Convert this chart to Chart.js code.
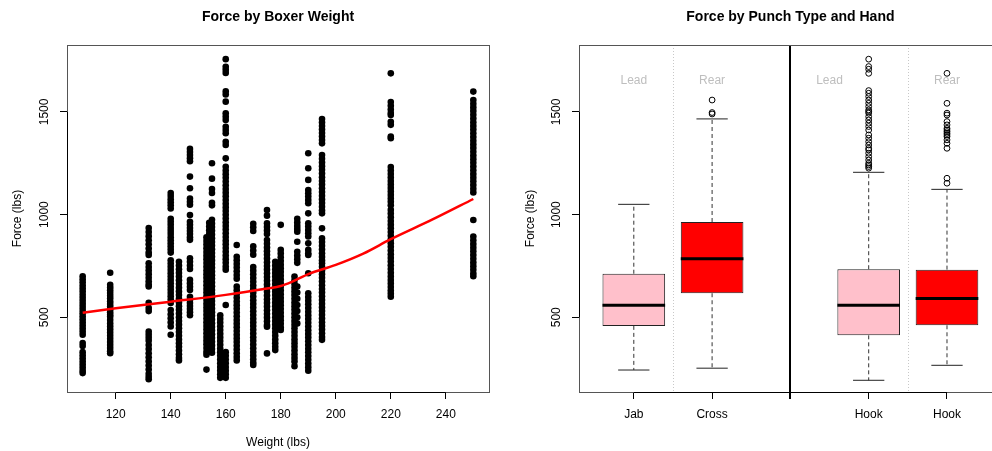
<!DOCTYPE html>
<html>
<head>
<meta charset="utf-8">
<title>Punch force</title>
<script src="https://cdn.jsdelivr.net/npm/chart.js@4.4.1/dist/chart.umd.min.js"></script>
<style>
  html, body { margin: 0; padding: 0; background: #fff; overflow: hidden; width: 992px; height: 451px; }
  #weightChart { position: absolute; left: 0; top: 0; }
  #punchChart { position: absolute; left: 496px; top: 0; }
</style>
</head>
<body>
<canvas id="weightChart" width="496" height="451"></canvas>
<canvas id="punchChart" width="520" height="451"></canvas>
<script>
// boxer weights (lbs) and the punch forces recorded at each weight
const weights = [108, 118, 132, 140, 143, 147, 153, 154, 155, 158, 160, 164, 170, 175, 178, 180, 185, 186, 190, 195, 220, 250];
const forces = [
  [700, 685, 670, 655, 640, 625, 610, 595, 580, 565, 550, 535, 520, 505, 490, 475, 460, 445, 430, 415, 375, 360, 330, 315, 300, 285, 270, 255, 240, 228],
  [717, 658, 645, 632, 618, 605, 592, 578, 565, 552, 538, 525, 512, 503, 487, 470, 455, 440, 425, 410, 395, 380, 365, 350, 335, 325],
  [935, 915, 895, 875, 855, 835, 815, 803, 763, 745, 728, 710, 692, 675, 660, 650, 570, 545, 530, 430, 415, 400, 385, 365, 345, 325, 305, 285, 265, 245, 225, 210, 198],
  [1105, 1090, 1075, 1060, 1045, 1030, 980, 965, 950, 935, 920, 905, 890, 875, 860, 845, 830, 815, 778, 762, 746, 730, 714, 698, 682, 666, 650, 634, 618, 602, 586, 570, 535, 515, 495, 475, 455, 415],
  [770, 752, 734, 716, 698, 680, 662, 644, 626, 608, 590, 572, 554, 536, 518, 500, 482, 464, 446, 428, 410, 392, 374, 356, 338, 320, 302, 290],
  [1320, 1305, 1290, 1275, 1260, 1185, 1128, 1078, 1062, 1048, 998, 965, 950, 935, 920, 905, 890, 877, 787, 770, 752, 735, 682, 665, 648, 633, 600, 585, 570, 555, 540, 525, 510],
  [890, 872, 854, 836, 818, 800, 782, 764, 746, 728, 710, 692, 674, 656, 638, 620, 602, 584, 566, 548, 530, 512, 494, 476, 458, 440, 422, 404, 386, 368, 350, 332, 318, 245],
  [960, 942, 924, 906, 888, 870, 852, 834, 816, 798, 780, 762, 744, 726, 708, 690, 672, 654, 636, 618, 600, 582, 564, 546, 528, 510, 492, 474, 456, 438, 420, 402, 384, 366, 348, 332],
  [1250, 1175, 1125, 1105, 1058, 1045, 975, 957, 939, 921, 903, 885, 867, 849, 831, 813, 795, 777, 759, 741, 723, 705, 687, 669, 651, 633, 615, 597, 579, 561, 543, 525, 507, 489, 471, 453, 435, 417, 399, 381, 363, 345, 327],
  [510, 492, 474, 456, 438, 420, 402, 384, 366, 348, 330, 312, 294, 276, 258, 240, 222, 205],
  [1757, 1720, 1705, 1690, 1600, 1585, 1550, 1493, 1477, 1461, 1428, 1412, 1396, 1355, 1339, 1274, 1233, 1215, 1197, 1179, 1161, 1143, 1125, 1107, 1089, 1071, 1053, 1035, 1017, 999, 981, 963, 945, 927, 909, 891, 873, 855, 837, 819, 801, 783, 765, 747, 732, 560, 330, 312, 294, 276, 258, 240, 222, 205],
  [852, 795, 778, 760, 742, 724, 706, 688, 649, 631, 613, 595, 577, 559, 541, 523, 505, 487, 469, 451, 433, 415, 397, 379, 361, 343, 325, 307, 290],
  [955, 938, 920, 845, 825, 805, 745, 727, 709, 691, 673, 655, 637, 619, 601, 583, 565, 547, 529, 511, 493, 475, 457, 439, 421, 403, 385, 367, 349, 331, 313, 295, 280, 268],
  [1022, 995, 958, 940, 922, 905, 876, 858, 840, 822, 804, 786, 768, 750, 732, 714, 696, 678, 660, 642, 624, 606, 588, 570, 552, 534, 516, 498, 480, 462, 454, 324],
  [770, 752, 734, 716, 698, 680, 662, 644, 626, 608, 590, 572, 554, 536, 518, 500, 482, 464, 446, 428, 410, 392, 374, 356, 340],
  [950, 828, 810, 792, 774, 756, 738, 720, 702, 684, 666, 648, 630, 612, 594, 576, 558, 540, 522, 504, 486, 468, 450, 438],
  [698, 680, 662, 644, 626, 608, 590, 572, 554, 536, 518, 500, 482, 464, 446, 428, 410, 392, 374, 356, 338, 320, 302, 284, 262],
  [980, 962, 945, 930, 917, 868, 819, 801, 783, 765, 650, 620, 590, 560, 530, 500, 470],
  [1299, 1226, 1169, 1120, 1104, 1088, 1071, 1055, 1006, 958, 942, 925, 909, 893, 860, 828, 812, 803, 714, 617, 599, 581, 563, 545, 527, 509, 491, 473, 455, 437, 419, 401, 383, 365, 347, 329, 311, 293, 275, 257, 240],
  [1465, 1448, 1431, 1414, 1397, 1380, 1363, 1347, 1290, 1272, 1254, 1236, 1218, 1200, 1182, 1164, 1146, 1128, 1110, 1092, 1074, 1056, 1038, 1020, 1006, 933, 884, 866, 848, 830, 812, 794, 776, 763, 746, 728, 710, 692, 674, 656, 638, 620, 602, 584, 566, 548, 530, 512, 494, 476, 458, 440, 422, 404, 390],
  [1688, 1548, 1530, 1512, 1495, 1485, 1452, 1437, 1380, 1372, 1232, 1215, 1198, 1181, 1164, 1147, 1130, 1113, 1096, 1079, 1062, 1045, 1023, 1005, 987, 969, 951, 933, 915, 897, 879, 861, 843, 825, 807, 789, 771, 753, 735, 717, 699, 681, 665, 647, 630, 615, 600],
  [1599, 1558, 1540, 1522, 1504, 1486, 1468, 1450, 1432, 1414, 1396, 1378, 1360, 1342, 1324, 1306, 1288, 1270, 1252, 1234, 1216, 1198, 1180, 1162, 1144, 1126, 1108, 974, 893, 875, 857, 839, 821, 803, 785, 767, 749, 731, 713, 700]
];

// smoothed trend of force against weight
const trendWeights = [108, 120, 140, 160, 175, 180, 184, 190, 200, 210, 220, 235, 250];
const trendForce = [522, 544, 576, 609, 640, 652, 672, 710, 755, 810, 880, 975, 1076];

const weightTicks = [120, 140, 160, 180, 200, 220, 240];
const forceTicks = [500, 1000, 1500];

// box plot summaries, punch type by hand
const punchTicks = ['Jab', 'Cross', '', 'Hook', 'Hook'];
const boxPositions = [1, 2, 4, 5];
const whiskerLow = [243, 252, 193, 266];
const quartile1 = [458, 617, 412, 461];
const medians = [558, 785, 558, 591];
const quartile3 = [712, 964, 734, 732];
const whiskerHigh = [1050, 1466, 1206, 1123];
const outliers = [
  [],
  [1558, 1497, 1490],
  [1757, 1721, 1708, 1688, 1604, 1591, 1575, 1558, 1542, 1526, 1510, 1502, 1494, 1477, 1461, 1445, 1429, 1412, 1388, 1372, 1355, 1339, 1323, 1315, 1299, 1282, 1266, 1250, 1242, 1234, 1226],
  [1688, 1542, 1494, 1485, 1453, 1437, 1420, 1412, 1404, 1396, 1388, 1380, 1364, 1347, 1323, 1177, 1153]
];
const handNames = ['Lead', 'Rear', 'Lead', 'Rear'];
const handNamePos = [1, 2, 3.5, 5];
const handNameForce = 1650;

const boxFill = ['#FFC0CB', '#FF0000', '#FFC0CB', '#FF0000'];

const FONT = "'Liberation Sans', Arial, Helvetica, sans-serif";
Chart.defaults.font.family = FONT;
Chart.defaults.color = '#000';

// box around the plot region plus the axis line between first and last tick
const framePlugin = {
  id: 'frame',
  afterDraw(chart) {
    const { ctx, chartArea: a, scales } = chart;
    ctx.save();
    ctx.strokeStyle = '#555';
    ctx.lineWidth = 1;
    ctx.strokeRect(Math.round(a.left) + 0.5, Math.round(a.top) + 0.5,
      Math.round(a.right - a.left), Math.round(a.bottom - a.top));
    ctx.strokeStyle = '#000';
    ctx.beginPath();
    const xt = scales.x.ticks;
    ctx.moveTo(scales.x.getPixelForValue(xt[0].value), Math.round(a.bottom) + 0.5);
    ctx.lineTo(scales.x.getPixelForValue(xt[xt.length - 1].value), Math.round(a.bottom) + 0.5);
    const yt = scales.y.ticks;
    ctx.moveTo(Math.round(a.left) + 0.5, scales.y.getPixelForValue(yt[0].value));
    ctx.lineTo(Math.round(a.left) + 0.5, scales.y.getPixelForValue(yt[yt.length - 1].value));
    ctx.stroke();
    ctx.restore();
  }
};

function yAxis(width, titlePad) {
  return {
    type: 'linear',
    min: 136,
    max: 1826,
    beginAtZero: false,
    afterBuildTicks: s => { s.ticks = forceTicks.map(v => ({ value: v })); },
    afterFit: s => { s.width = width; },
    grid: { drawOnChartArea: false, drawTicks: true, tickLength: 7, tickColor: '#000' },
    border: { display: false },
    ticks: { font: { size: 12 }, color: '#000', minRotation: 90, maxRotation: 90, crossAlign: 'center', padding: 2,
      callback: v => String(v) },
    title: { display: true, text: 'Force (lbs)', font: { size: 12 }, color: '#000', padding: { top: titlePad, bottom: 0 } }
  };
}

function titleOpts(text) {
  return {
    display: true,
    text: text,
    fullSize: false,
    color: '#000',
    font: { size: 14, weight: 'bold', lineHeight: 1.2 },
    padding: { top: 8.6, bottom: 19.6 }
  };
}

// ---- left panel: scatter of force by weight ----
const scatterPoints = [];
weights.forEach((w, i) => forces[i].forEach(f => scatterPoints.push({ x: w, y: f })));
const trendPoints = trendWeights.map((w, i) => ({ x: w, y: trendForce[i] }));

new Chart(document.getElementById('weightChart'), {
  type: 'scatter',
  data: {
    datasets: [
      { data: scatterPoints, pointRadius: 3.3, pointBackgroundColor: '#000', pointBorderWidth: 0, order: 2 },
      { type: 'line', data: trendPoints, borderColor: '#FF0000', borderWidth: 2.5, pointRadius: 0,
        cubicInterpolationMode: 'monotone', fill: false, order: 1 }
    ]
  },
  options: {
    responsive: false,
    animation: false,
    devicePixelRatio: 1,
    layout: { padding: { left: 0, right: 7, top: 0, bottom: 0 } },
    plugins: { legend: { display: false }, tooltip: { enabled: false }, title: titleOpts('Force by Boxer Weight') },
    scales: {
      x: {
        type: 'linear',
        min: 102.3,
        max: 255.7,
        afterBuildTicks: s => { s.ticks = weightTicks.map(v => ({ value: v })); },
        afterFit: s => { s.height = 59; },
        grid: { drawOnChartArea: false, drawTicks: true, tickLength: 7, tickColor: '#000' },
        border: { display: false },
        ticks: { font: { size: 12 }, color: '#000', padding: 8.5, maxRotation: 0, autoSkip: false,
          callback: v => String(v) },
        title: { display: true, text: 'Weight (lbs)', font: { size: 12 }, color: '#000', padding: { top: 0, bottom: 1 } }
      },
      y: yAxis(67, 10.3)
    }
  },
  plugins: [framePlugin]
});

// ---- right panel: box plots of force by punch type and hand ----
const half = 0.4, cap = 0.2;
const boxes = boxPositions.map((p, i) => ({ x: p, y: [quartile1[i], quartile3[i]] }));
const whiskers = [], caps = [], medianLines = [], outlierPoints = [];
boxPositions.forEach((p, i) => {
  whiskers.push({ x: p, y: quartile3[i] }, { x: p, y: whiskerHigh[i] }, { x: p, y: null },
                { x: p, y: quartile1[i] }, { x: p, y: whiskerLow[i] }, { x: p, y: null });
  caps.push({ x: p - cap, y: whiskerHigh[i] }, { x: p + cap, y: whiskerHigh[i] }, { x: p, y: null },
            { x: p - cap, y: whiskerLow[i] }, { x: p + cap, y: whiskerLow[i] }, { x: p, y: null });
  medianLines.push({ x: p - half, y: medians[i] }, { x: p + half, y: medians[i] }, { x: p, y: null });
  outliers[i].forEach(v => outlierPoints.push({ x: p, y: v }));
});

// separators between the punch groups and the Lead / Rear captions
const groupsPlugin = {
  id: 'groups',
  beforeDatasetsDraw(chart) {
    const { ctx, chartArea: a, scales: { x, y } } = chart;
    ctx.save();
    ctx.strokeStyle = '#c8c8c8';
    ctx.lineWidth = 1;
    ctx.setLineDash([1, 2]);
    [1.5, 4.5].forEach(v => {
      const px = Math.round(x.getPixelForValue(v)) + 0.5;
      ctx.beginPath(); ctx.moveTo(px, a.top); ctx.lineTo(px, a.bottom); ctx.stroke();
    });
    ctx.setLineDash([]);
    ctx.strokeStyle = '#000';
    ctx.lineWidth = 2;
    const mid = Math.round(x.getPixelForValue(3));
    ctx.beginPath(); ctx.moveTo(mid, a.top); ctx.lineTo(mid, a.bottom + 7); ctx.stroke();
    ctx.fillStyle = '#bebebe';
    ctx.font = '12px ' + FONT;
    ctx.textAlign = 'center';
    ctx.textBaseline = 'middle';
    handNames.forEach((t, i) => ctx.fillText(t, x.getPixelForValue(handNamePos[i]), y.getPixelForValue(handNameForce)));
    ctx.restore();
  }
};

new Chart(document.getElementById('punchChart'), {
  type: 'bar',
  data: {
    datasets: [
      { type: 'line', data: whiskers, borderColor: '#333', borderWidth: 1, borderDash: [4, 3], pointRadius: 0, spanGaps: false, order: 5 },
      { type: 'line', data: caps, borderColor: '#222', borderWidth: 1, pointRadius: 0, spanGaps: false, order: 4 },
      { data: boxes, backgroundColor: boxFill, borderColor: '#222', borderWidth: 1, borderSkipped: false,
        categoryPercentage: 1, barPercentage: 0.8, order: 3 },
      { type: 'line', data: medianLines, borderColor: '#000', borderWidth: 3, pointRadius: 0, spanGaps: false, order: 2 },
      { type: 'line', data: outlierPoints, showLine: false, pointRadius: 2.9, pointBorderWidth: 1,
        pointBorderColor: '#000', pointBackgroundColor: 'rgba(0,0,0,0)', order: 1 }
    ]
  },
  options: {
    responsive: false,
    animation: false,
    devicePixelRatio: 1,
    layout: { padding: { left: 0, right: 14.2, top: 0, bottom: 0 } },
    plugins: { legend: { display: false }, tooltip: { enabled: false }, title: titleOpts('Force by Punch Type and Hand') },
    scales: {
      x: {
        type: 'linear',
        min: 0.3,
        max: 5.7,
        offset: false,
        afterBuildTicks: s => { s.ticks = punchTicks.map((t, i) => ({ value: i + 1 })); },
        afterFit: s => { s.height = 59; },
        grid: { offset: false, drawOnChartArea: false, drawTicks: true, tickLength: 7, tickColor: '#000' },
        border: { display: false },
        ticks: { font: { size: 12 }, color: '#000', padding: 8.5, maxRotation: 0, autoSkip: false,
          callback: (v, i) => punchTicks[i] }
      },
      y: yAxis(83, 27.5)
    }
  },
  plugins: [framePlugin, groupsPlugin]
});
</script>
</body>
</html>
